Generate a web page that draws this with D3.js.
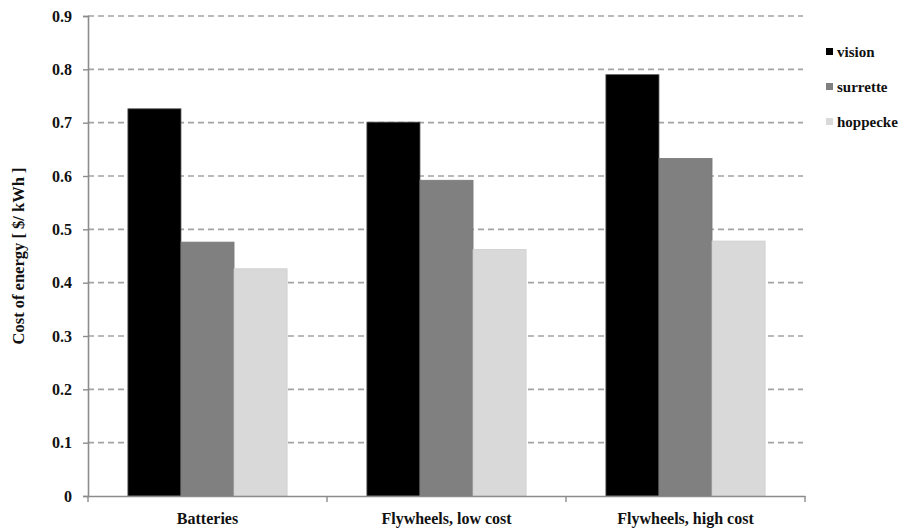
<!DOCTYPE html>
<html>
<head>
<meta charset="utf-8">
<script src="https://cdn.jsdelivr.net/npm/d3@7"></script>
<style>
  body { margin: 0; background: #fff; }
  svg text { font-family: "Liberation Serif", "DejaVu Serif", serif; font-weight: bold; fill: #111; }
</style>
</head>
<body>
<svg id="chart" width="901" height="531"></svg>
<script>
// Cost of energy per configuration and battery type
const categories = ["Batteries", "Flywheels, low cost", "Flywheels, high cost"];
const seriesNames = ["vision", "surrette", "hoppecke"];
const vision   = [0.726, 0.701, 0.790];
const surrette = [0.476, 0.592, 0.633];
const hoppecke = [0.426, 0.462, 0.478];
const yTicks = [0, 0.1, 0.2, 0.3, 0.4, 0.5, 0.6, 0.7, 0.8, 0.9];
const colors = ["#000000", "#808080", "#d9d9d9"];

const seriesValues = [vision, surrette, hoppecke];
const svg = d3.select("#chart");
const margin = { left: 88, right: 96, top: 16, bottom: 35 };
const W = 901, H = 531;

const x0 = d3.scaleBand().domain(categories)
  .range([margin.left, W - margin.right]).paddingInner(0).paddingOuter(0);
const x1 = d3.scaleBand().domain(seriesNames)
  .range([0, x0.bandwidth()]).paddingOuter(0.752).paddingInner(0);
const y = d3.scaleLinear().domain([0, 0.9]).range([H - margin.bottom, margin.top]);

// horizontal dashed gridlines
svg.append("g").selectAll("line").data(yTicks.filter(d => d > 0)).join("line")
  .attr("x1", margin.left).attr("x2", W - margin.right - 2)
  .attr("y1", d => y(d)).attr("y2", d => y(d))
  .attr("stroke", "#a3a3a3").attr("stroke-width", 1.6)
  .attr("stroke-dasharray", "6,4");

// bars
const groups = svg.append("g").selectAll("g").data(categories).join("g")
  .attr("transform", d => `translate(${x0(d)},0)`);
groups.selectAll("rect")
  .data((c, i) => seriesNames.map((s, j) => ({ s, j, v: seriesValues[j][i] })))
  .join("rect")
  .attr("x", d => x1(d.s))
  .attr("width", x1.bandwidth())
  .attr("y", d => y(d.v))
  .attr("height", d => y(0) - y(d.v))
  .attr("fill", d => colors[d.j])
  .attr("stroke", d => d.j === 0 ? "#555" : d3.color(colors[d.j]).darker(0.15))
  .attr("stroke-width", 0.8);

// y axis
const yAxis = svg.append("g").attr("transform", `translate(${margin.left},0)`)
  .call(d3.axisLeft(y).tickValues(yTicks).tickSize(5).tickPadding(11)
    .tickFormat(d => d === 0 ? "0" : d3.format(".1f")(d)));
yAxis.select(".domain").attr("stroke", "#8c8c8c").attr("stroke-width", 1.6);
yAxis.selectAll(".tick line").attr("stroke", "#8c8c8c").attr("stroke-width", 1.4);
yAxis.selectAll(".tick text").attr("font-size", 16).style("font-family", "Liberation Serif").style("font-weight", "bold").attr("fill", "#111");

// x axis with boundary ticks
const xAxis = svg.append("g").attr("transform", `translate(0,${y(0)})`)
  .call(d3.axisBottom(x0).tickSize(0).tickPadding(17));
xAxis.select(".domain").attr("stroke", "#8c8c8c").attr("stroke-width", 1.6);
xAxis.selectAll(".tick text").attr("font-size", 16).style("font-family", "Liberation Serif").style("font-weight", "bold").attr("fill", "#111");
const bounds = categories.map(c => x0(c)).concat([x0.range()[1]]);
xAxis.append("g").selectAll("line").data(bounds).join("line")
  .attr("x1", d => d).attr("x2", d => d).attr("y1", 0).attr("y2", 6)
  .attr("stroke", "#8c8c8c").attr("stroke-width", 1.4);

// y axis title
svg.append("text")
  .attr("transform", `translate(24,${(y(0) + y(0.9)) / 2}) rotate(-90)`)
  .attr("text-anchor", "middle").attr("font-size", 16.5)
  .text("Cost of energy [ $/ kWh ]");

// legend
const legend = svg.append("g").selectAll("g").data(seriesNames).join("g")
  .attr("transform", (d, i) => `translate(826,${52 + i * 35})`);
legend.append("rect").attr("x", 0).attr("y", -4).attr("width", 7).attr("height", 7)
  .attr("fill", (d, i) => colors[i]);
legend.append("text").attr("x", 11).attr("y", 0).attr("dy", "0.35em")
  .attr("font-size", 15).text(d => d);
</script>
</body>
</html>
